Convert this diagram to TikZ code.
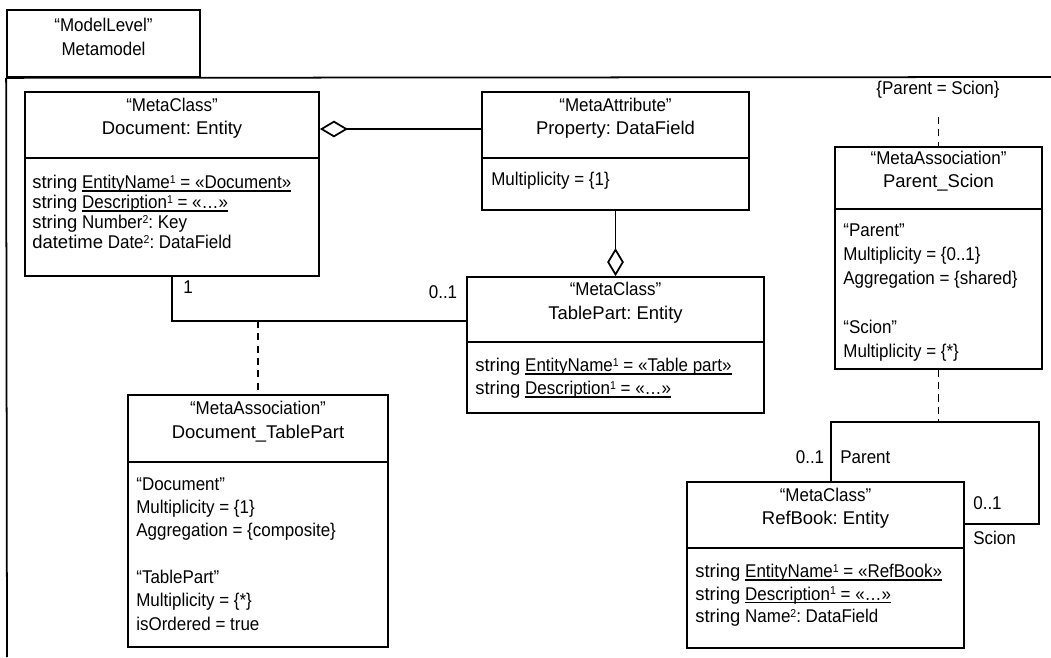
\documentclass[tikz,border=0pt]{standalone}
\usepackage{fontspec}
\setmainfont{Liberation Sans}[FakeStretch=0.92]
\newfontfamily\kwfont{Liberation Sans}
\usepackage{tikz}
\usetikzlibrary{arrows.meta,fit}
\frenchspacing

\newcommand{\kw}[1]{{\kwfont #1}}
\newcommand{\idx}[1]{\raisebox{3pt}{\fontsize{6.5}{7}\selectfont #1}}
\newcommand{\ulin}[1]{\sbox0{#1}\rlap{\rule[-1.7pt]{\wd0}{0.8pt}}\usebox0}

\tikzset{
  umlbox/.style={draw, line width=1pt, inner sep=0pt, align=center},
  bodytext/.style={align=left, anchor=north west, inner sep=0pt},
  aggr/.style={line width=1pt, -{Diamond[open,length=16pt,width=9.5pt]}},
  dep/.style={line width=1pt, dash pattern=on 4pt off 3pt},
  assoc/.style={line width=1pt},
}

\begin{document}
\begin{tikzpicture}[x=0.02cm, y=-0.02cm, every node/.style={font=\fontsize{10.5}{13.3}\selectfont}]
        \useasboundingbox (0,0) rectangle (1051,657);
        % Package frame
        \node[umlbox, fit={(7,10) (200,77)}] (tab) {“ModelLevel”\\Metamodel};
        \draw[assoc] (tab.south west) -- (7,657);
        \draw[assoc] (tab.south west) -- (1051,77);

        % Document
        \node[umlbox, fit={(25,92) (319,158)}] (doch) {“MetaClass”\\\kw{Document: Entity}};
        \node[umlbox, fit={(25,158) (319,276)}] (docb) {};
        \node[bodytext, font=\fontsize{10.5}{11.4}\selectfont] (docl) at (32,175) {\kw{string} \ulin{EntityName\idx{1} = «Document»}\\\kw{string} \ulin{Description\idx{1} = «…»}\\\kw{string} Number\idx{2}: Key\\\kw{datetime} Date\idx{2}: DataField};

        % Property
        \node[umlbox, fit={(482,92) (749,158)}] (proph) {“MetaAttribute”\\\kw{Property: DataField}};
        \node[umlbox, fit={(482,158) (749,210)}] (propb) {};
        \node[bodytext] (propl) at (491,172) {Multiplicity = \{1\}};

        % TablePart
        \node[umlbox, fit={(467,277) (764,342)}] (tph) {“MetaClass”\\\kw{TablePart: Entity}};
        \node[umlbox, fit={(467,342) (764,413)}] (tpb) {};
        \node[bodytext, font=\fontsize{10.5}{13}\selectfont] (tpl) at (475,358) {\kw{string} \ulin{EntityName\idx{1} = «Table part»}\\\kw{string} \ulin{Description\idx{1} = «…»}};

        % Document_TablePart
        \node[umlbox, fit={(128,395) (388,462)}] (dtph) {“MetaAssociation”\\\kw{Document\_TablePart}};
        \node[umlbox, fit={(128,462) (388,647)}] (dtpb) {};
        \node[bodytext] (dtpl) at (136,477) {“Document”\\Multiplicity = \{1\}\\Aggregation = \{composite\}\\[13.3pt]“TablePart”\\Multiplicity = \{*\}\\isOrdered = true};

        % Parent_Scion
        \node (cons) at (938,90) {\{Parent = Scion\}};
        \node[umlbox, fit={(835,147) (1042,209)}] (psh) {“MetaAssociation”\\\kw{Parent\_Scion}};
        \node[umlbox, fit={(835,209) (1042,369)}] (psb) {};
        \node[bodytext, font=\fontsize{10.5}{13.8}\selectfont] (psl) at (843,223) {“Parent”\\Multiplicity = \{0..1\}\\Aggregation = \{shared\}\\[13.8pt]“Scion”\\Multiplicity = \{*\}};

        % RefBook
        \node[umlbox, fit={(687,482) (964,548)}] (rbh) {“MetaClass”\\\kw{RefBook: Entity}};
        \node[umlbox, fit={(687,548) (964,648)}] (rbb) {};
        \node[bodytext, font=\fontsize{10.5}{12.8}\selectfont] (rbl) at (695,564) {\kw{string} \ulin{EntityName\idx{1} = «RefBook»}\\\kw{string} \ulin{Description\idx{1} = «…»}\\\kw{string} Name\idx{2}: DataField};

        % Connectors
        \coordinate (dtpjoin) at (258,321);
        \coordinate (lp1) at (831,422);
        \coordinate (lp2) at (1039,524);

        \draw[aggr] (proph.west) ++(0,4) -- (doch.east |- 0,129);
        \draw[aggr] (propb.south) -- (tph.north);
        \draw[assoc] (docb.south) |- (tph.west |- dtpjoin);
        \draw[dep] (dtpjoin) -- (dtph.north);
        \draw[dep] (psh.north |- 0,117) -- (psh.north);
        \draw[dep] (psb.south) -- (psb.south |- lp1);
        \draw[assoc] (rbh.north -| lp1) -- (lp1) -| (lp2) -- (rbh.east |- lp2);

        \node (m1) at (188,287) {1};
        \node (m2) at (443,292) {0..1};
        \node (m3) at (810,457) {0..1};
        \node[anchor=west, inner sep=0pt] (r1) at (840,457) {Parent};
        \node[anchor=west, inner sep=0pt] (m4) at (973,503) {0..1};
        \node[anchor=west, inner sep=0pt] (r2) at (973,538) {Scion};
    \end{tikzpicture}
\end{document}
